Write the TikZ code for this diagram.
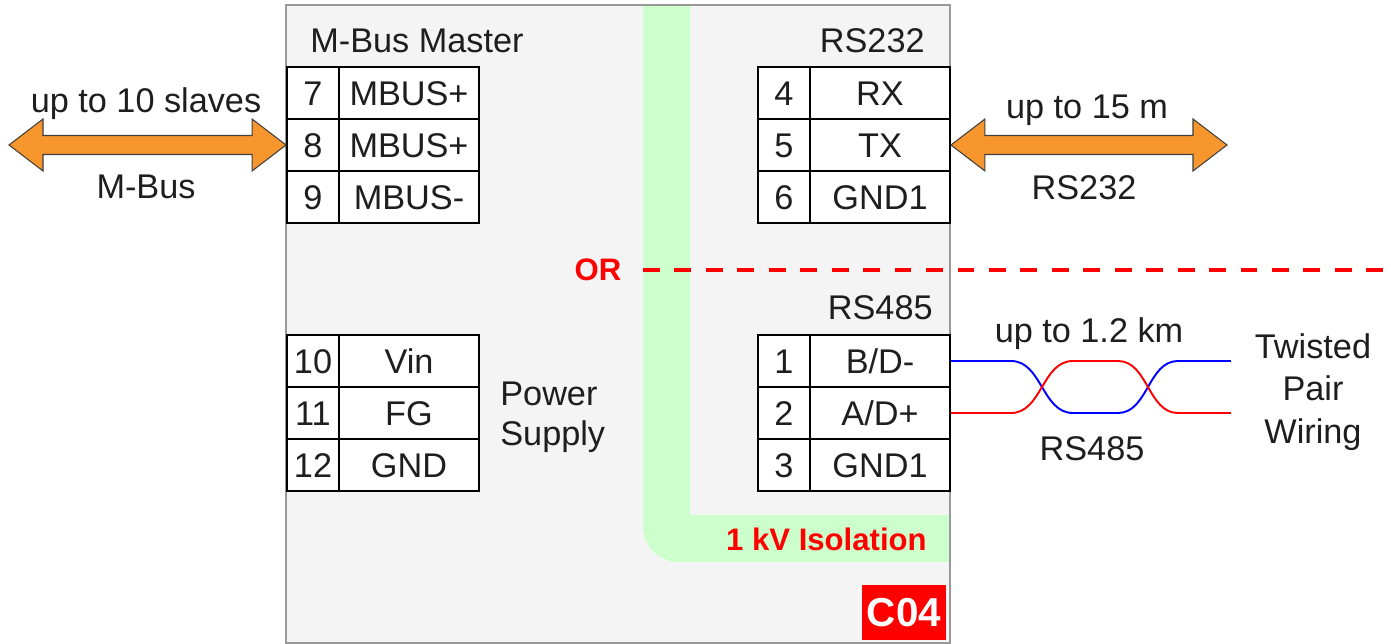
\documentclass[tikz,border=0pt]{standalone}
\usepackage{fontspec}
\setmainfont{Liberation Sans}
\usetikzlibrary{calc}
\definecolor{boxfill}{HTML}{F4F4F4}
\definecolor{boxline}{HTML}{999999}
\definecolor{isol}{HTML}{CCFFCC}
\definecolor{arrorange}{RGB}{247,150,45}
\definecolor{txt}{HTML}{1E1E1E}
\newcommand\bidiarrow[2]{%
  \draw[dblarrow] (#1) -- ($(#1)+(34,-26)$) -- ($(#1)+(34,-9.5)$) -- ($(#2)+(-34,-9.5)$)
   -- ($(#2)+(-34,-26)$) -- (#2) -- ($(#2)+(-34,26)$) -- ($(#2)+(-34,9.5)$)
   -- ($(#1)+(34,9.5)$) -- ($(#1)+(34,26)$) -- cycle;}
\begin{document}
\begin{tikzpicture}[x=0.02cm,y=-0.02cm,
  lbl/.style={font=\fontsize{19.5}{23}\selectfont, text=txt, inner sep=0pt},
  redlbl/.style={font=\fontsize{17.7}{21}\selectfont\bfseries, text=red, inner sep=0pt},
  cell/.style={lbl, draw=black, line width=1.1pt, fill=white, minimum height=1.04cm,
               text height=14pt, text depth=0pt},
  numc/.style={cell, minimum width=1.04cm},
  namec/.style={cell, minimum width=2.8cm},
  dblarrow/.style={fill=arrorange, draw=black!75, line width=0.6pt, line join=miter},
  wire/.style={line width=1.1pt},
  ordash/.style={red, line width=2.8pt, dash pattern=on 9.6pt off 8.3pt}]
\useasboundingbox (0,0) rectangle (1391,644);

% main box
\fill[boxfill] (286,5) rectangle (950,643);
% isolation band
\fill[isol] (643,6) rectangle (690,527);
\fill[isol] (678,515) rectangle (949,562);
\fill[isol] (690,515) rectangle (678,527);
\begin{scope}
  \clip (643,527) rectangle (678,562);
  \fill[isol] (678,527) circle (19.85pt);
\end{scope}
\draw[boxline, line width=1.1pt] (286,5) rectangle (950,643);

% M-Bus master table
\node[lbl, anchor=base west] (mtitle) at (310,53) {M-Bus Master};
\node[numc]  (m7) at (313,93)  {7};
\node[namec] (n7) at (409,93)  {MBUS+};
\node[numc]  (m8) at (313,145) {8};
\node[namec] (n8) at (409,145) {MBUS+};
\node[numc]  (m9) at (313,197) {9};
\node[namec] (n9) at (409,197) {MBUS-};

% power table
\node[numc]  (m10) at (313,361) {10};
\node[namec] (n10) at (409,361) {Vin};
\node[numc]  (m11) at (313,413) {11};
\node[namec] (n11) at (409,413) {FG};
\node[numc]  (m12) at (313,465) {12};
\node[namec] (n12) at (409,465) {GND};
\node[lbl, anchor=base west] (pw1) at (500,406) {Power};
\node[lbl, anchor=base west] (pw2) at (500,445) {Supply};

% RS232 table
\node[lbl, anchor=base east] (rtitle) at (925,53) {RS232};
\node[numc]  (t4) at (784,93)  {4};
\node[namec] (u4) at (880,93)  {RX};
\node[numc]  (t5) at (784,145) {5};
\node[namec] (u5) at (880,145) {TX};
\node[numc]  (t6) at (784,197) {6};
\node[namec] (u6) at (880,197) {GND1};

% RS485 table
\node[lbl, anchor=base east] (stitle) at (933,320) {RS485};
\node[numc]  (p1) at (784,361) {1};
\node[namec] (q1) at (880,361) {B/D-};
\node[numc]  (p2) at (784,413) {2};
\node[namec] (q2) at (880,413) {A/D+};
\node[numc]  (p3) at (784,465) {3};
\node[namec] (q3) at (880,465) {GND1};

% OR separator
\coordinate (orA) at (643,270);
\coordinate (orB) at (1391,270);
\draw[ordash] (orA) -- (orB);
\node[redlbl, anchor=base] (ortxt) at (598,281) {OR};

% isolation label and badge
\node[redlbl, anchor=base east] (iso) at (927,550) {1 kV Isolation};
\node[fill=red, minimum width=1.68cm, minimum height=1.1cm, inner sep=0pt,
      text=white, font=\fontsize{23}{27}\selectfont\bfseries] (c04) at (904,612.5) {C04};

% M-Bus arrow
\coordinate (mbA) at (9,145);
\bidiarrow{mbA}{m8.west}
\node[lbl, anchor=base] (mb1) at (146,113) {up to 10 slaves};
\node[lbl, anchor=base] (mb2) at (146,199) {M-Bus};

% RS232 arrow
\coordinate (rsB) at (1227,145);
\bidiarrow{u5.east}{rsB}
\node[lbl, anchor=base] (rs1) at (1087,119) {up to 15 m};
\node[lbl, anchor=base] (rs2) at (1084,200) {RS232};

% RS485 twisted pair
\draw[blue, wire] (q1.east) -- ++(60,0) .. controls +(31,0) and +(-31,0) .. ++(62,52)
   -- ++(45,0) .. controls +(30,0) and +(-30,0) .. ++(60,-52) -- ++(53,0) coordinate (tpB);
\draw[red, wire] (q2.east) -- ++(60,0) .. controls +(31,0) and +(-31,0) .. ++(62,-52)
   -- ++(45,0) .. controls +(30,0) and +(-30,0) .. ++(60,52) -- ++(53,0) coordinate (tpR);
\node[lbl, anchor=base] (tp1) at (1089,343) {up to 1.2 km};
\node[lbl, anchor=base] (tp2) at (1092,460) {RS485};
\node[lbl, anchor=base] (tw1) at (1313,359) {Twisted};
\node[lbl, anchor=base] (tw2) at (1313,401) {Pair};
\node[lbl, anchor=base] (tw3) at (1313,443) {Wiring};
\end{tikzpicture}
\end{document}
